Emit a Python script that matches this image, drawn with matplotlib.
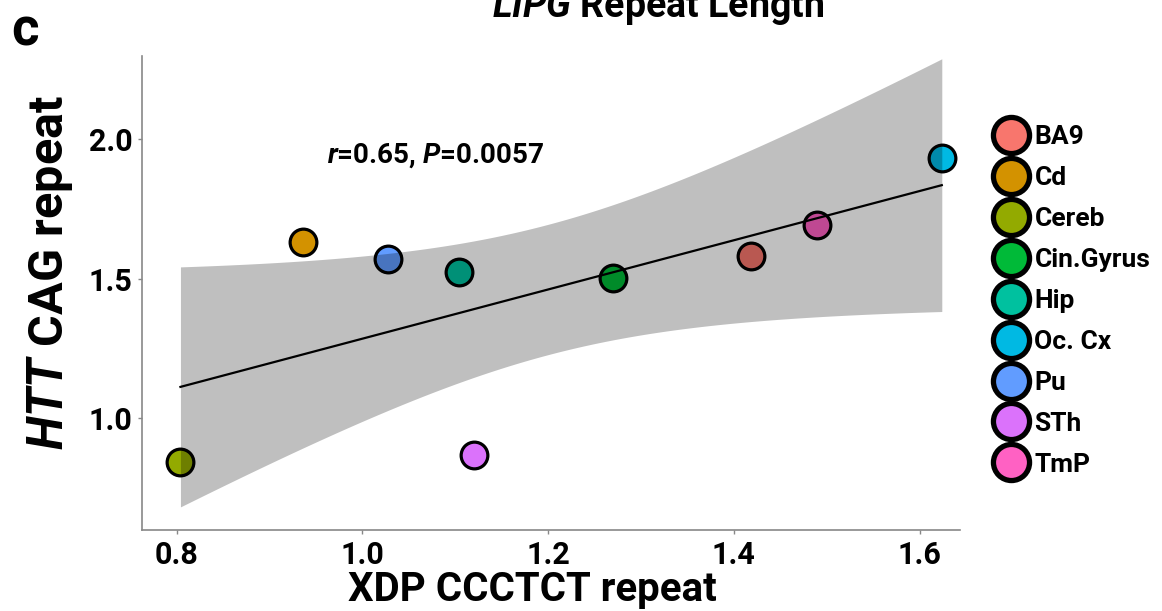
import numpy as np
import matplotlib
matplotlib.use("Agg")
import matplotlib.pyplot as plt
from matplotlib.lines import Line2D

plt.rcParams['font.family'] = ['Roboto', 'DejaVu Sans']
plt.rcParams['font.weight'] = 'bold'
plt.rcParams['mathtext.fontset'] = 'custom'
plt.rcParams['mathtext.it'] = 'Roboto:italic:bold'
plt.rcParams['mathtext.rm'] = 'Roboto:bold'
plt.rcParams['mathtext.bf'] = 'Roboto:bold'

# tissue order as in legend
tissues = ["BA9", "Cd", "Cereb", "Cin.Gyrus", "Hip", "Oc. Cx", "Pu", "STh", "TmP"]
colors = ["#F8766D", "#D39200", "#93AA00", "#00BA38", "#00C19F",
          "#00B9E3", "#619CFF", "#DB72FB", "#FF61C3"]
xdp_repeat = [1.418, 0.936, 0.804, 1.270, 1.104, 1.624, 1.028, 1.120, 1.490]
htt_repeat = [1.582, 1.632, 0.844, 1.503, 1.524, 1.932, 1.571, 0.869, 1.692]
t_crit = 2.3646  # t(0.975, df=7)

x = np.array(xdp_repeat)
y = np.array(htt_repeat)

fig = plt.figure(figsize=(11.62, 6.11), dpi=100)
ax = fig.add_axes([142 / 1162, 1 - 530 / 611, (960 - 142) / 1162, (530 - 55.7) / 611])

# points first, the band goes on top of them (ggplot order)
for xi, yi, c in zip(x, y, colors):
    ax.scatter(xi, yi, s=370, color=c, edgecolor='black', linewidth=2.3, zorder=2)

# linear fit and 95% confidence band
slope, intercept = np.polyfit(x, y, 1)
xs = np.linspace(x.min(), x.max(), 200)
ys = intercept + slope * xs
n = len(x)
resid = y - (intercept + slope * x)
s_err = np.sqrt(np.sum(resid ** 2) / (n - 2))
se = s_err * np.sqrt(1 / n + (xs - x.mean()) ** 2 / np.sum((x - x.mean()) ** 2))
ax.fill_between(xs, ys - t_crit * se, ys + t_crit * se, color='black', alpha=0.25,
                linewidth=0, zorder=3)
ax.plot(xs, ys, color='black', linewidth=1.6, zorder=4)

ax.text(0.962, 1.914, r'$r$=0.65, $P$=0.0057', fontsize=20, fontweight='bold',
        va='baseline', ha='left', zorder=5)

ax.set_xlim(0.7626, 1.6436)
ax.set_ylim(0.601, 2.298)
ax.set_xticks([0.8, 1.0, 1.2, 1.4, 1.6])
ax.set_yticks([1.0, 1.5, 2.0])
ax.set_xticklabels(['0.8', '1.0', '1.2', '1.4', '1.6'])
ax.set_yticklabels(['1.0', '1.5', '2.0'])
ax.tick_params(axis='both', labelsize=22, length=3, width=1, color='#888888', pad=4)
for lab in ax.get_xticklabels() + ax.get_yticklabels():
    lab.set_fontweight('bold')
for side in ['top', 'right']:
    ax.spines[side].set_visible(False)
for side in ['left', 'bottom']:
    ax.spines[side].set_color('#888888')
    ax.spines[side].set_linewidth(1.2)

ax.set_xlabel('XDP CCCTCT repeat', fontsize=29, fontweight='bold', labelpad=1)
ax.xaxis.label.set_x((532 - 142) / 818)
ax.set_ylabel(r'$HTT$ CAG repeat', fontsize=35, fontweight='bold', labelpad=10)
ax.yaxis.label.set_y((530 - 273) / 474.3)

fig.text(658 / 1162, 1 - 17 / 611, r'$LIPG$ Repeat Length', fontsize=27,
         fontweight='bold', ha='center', va='baseline')
fig.text(11 / 1162, 1 - 45 / 611, 'c', fontsize=38, fontweight='bold',
         ha='left', va='baseline')

handles = [Line2D([], [], marker='o', linestyle='', markersize=26,
                  markerfacecolor=c, markeredgecolor='black', markeredgewidth=3.8)
           for c in colors]
leg = fig.legend(handles, tissues, loc='center left',
                 bbox_to_anchor=(979 / 1162, 1 - 301 / 611), frameon=False,
                 prop={'family': 'Roboto', 'weight': 'bold', 'size': 19},
                 labelspacing=0.64, handletextpad=0.2, handlelength=1.4,
                 borderpad=0)

fig.savefig('out.png', dpi=100)
